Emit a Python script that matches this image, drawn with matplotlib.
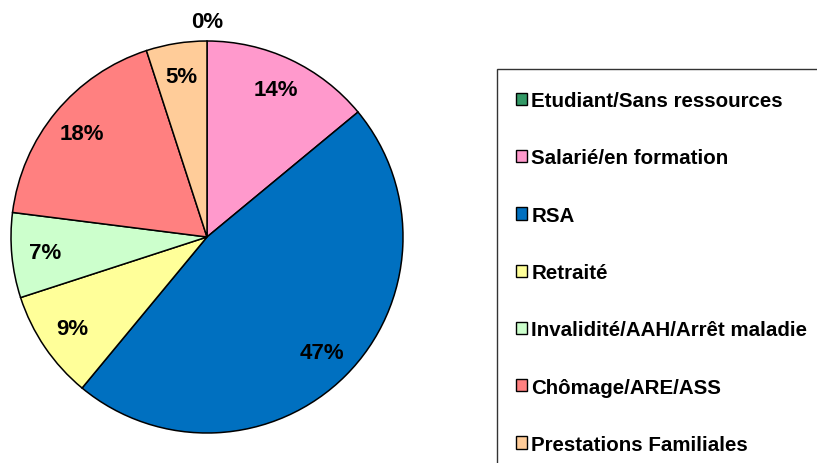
import matplotlib.pyplot as plt
from matplotlib.patches import Patch, Rectangle

categories = ["Etudiant/Sans ressources", "Salarié/en formation", "RSA", "Retraité",
              "Invalidité/AAH/Arrêt maladie", "Chômage/ARE/ASS", "Prestations Familiales"]
values = [0, 14, 47, 9, 7, 18, 5]
colors = ["#339966", "#FF99CC", "#0070C0", "#FFFF99", "#CCFFCC", "#FF8080", "#FFCC99"]

plt.rcParams['font.family'] = ['Liberation Sans', 'DejaVu Sans']

W, H = 817, 464
fig = plt.figure(figsize=(W / 100, H / 100), dpi=100)

# pie area in pixels: centre (207, 238), radius 196
cx, cy, r = 207, 238, 196
ax = fig.add_axes([(cx - r) / W, (H - cy - r) / H, 2 * r / W, 2 * r / H])

wedges, texts, autotexts = ax.pie(
    values, colors=colors, startangle=90, counterclock=False,
    autopct='%1.0f%%', pctdistance=0.83,
    wedgeprops=dict(edgecolor='black', linewidth=1.1),
    textprops=dict(fontsize=16, fontweight='bold', color='black'))
ax.set_aspect('equal')
ax.set_xlim(-1, 1)
ax.set_ylim(-1, 1)
for w in wedges:
    w.set_clip_on(False)

# the 0% label sits just outside the circle
for v, t in zip(values, autotexts):
    if v == 0:
        t.set_position((0, 1.1))
    t.set_clip_on(False)

# legend frame (runs off the right/bottom edge)
fig.patches.append(Rectangle((497 / W, -0.1), 1.0, 1 - 70 / H + 0.1,
                             transform=fig.transFigure, facecolor='none',
                             edgecolor='#333333', linewidth=1.0))

handles = [Patch(facecolor=c, edgecolor='black', linewidth=1.0) for c in colors]
fig.legend(handles, categories, loc='upper left',
           bbox_to_anchor=(516 / W, 1 - 92 / H), frameon=False,
           prop=dict(size=14.75, weight='bold'),
           handlelength=0.55, handleheight=0.55, handletextpad=0.2,
           labelspacing=1.87, borderpad=0, borderaxespad=0)

fig.savefig('out.png', dpi=100)
